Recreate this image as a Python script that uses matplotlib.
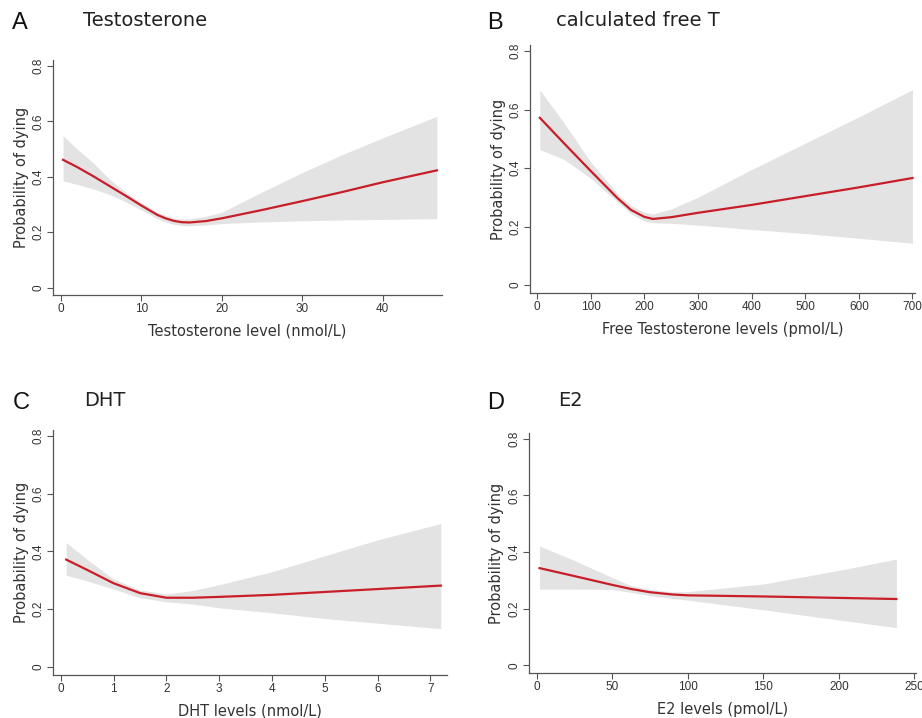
import matplotlib
matplotlib.use("Agg")
import matplotlib.pyplot as plt

plt.rcParams['font.family'] = ['Liberation Sans', 'DejaVu Sans']

# Panel A - total testosterone
t_x = [0.25, 2, 4, 6, 8, 10, 12, 13, 14, 15, 16, 18, 20, 25, 30, 35, 40, 46.75]
t_fit = [0.461, 0.435, 0.402, 0.367, 0.332, 0.296, 0.262, 0.25, 0.241, 0.236, 0.235, 0.24, 0.25, 0.28, 0.312, 0.345, 0.38, 0.423]
t_hi = [0.548, 0.50, 0.45, 0.392, 0.345, 0.306, 0.272, 0.26, 0.252, 0.248, 0.248, 0.257, 0.272, 0.345, 0.415, 0.48, 0.54, 0.618]
t_lo = [0.385, 0.372, 0.356, 0.336, 0.31, 0.28, 0.248, 0.237, 0.228, 0.224, 0.223, 0.226, 0.231, 0.237, 0.241, 0.244, 0.246, 0.249]

# Panel B - calculated free testosterone
ft_x = [5, 50, 100, 150, 175, 200, 216, 250, 300, 400, 500, 600, 700]
ft_fit = [0.572, 0.485, 0.39, 0.297, 0.257, 0.233, 0.226, 0.232, 0.247, 0.274, 0.304, 0.334, 0.366]
ft_hi = [0.667, 0.555, 0.42, 0.312, 0.272, 0.249, 0.243, 0.26, 0.30, 0.395, 0.485, 0.575, 0.668]
ft_lo = [0.463, 0.43, 0.365, 0.284, 0.244, 0.219, 0.213, 0.211, 0.205, 0.19, 0.176, 0.16, 0.143]

# Panel C - DHT
dht_x = [0.1, 0.5, 1, 1.5, 2, 2.5, 3, 4, 5, 6, 7.2]
dht_fit = [0.372, 0.336, 0.29, 0.256, 0.24, 0.24, 0.243, 0.25, 0.26, 0.27, 0.282]
dht_hi = [0.431, 0.372, 0.305, 0.267, 0.253, 0.265, 0.285, 0.33, 0.385, 0.44, 0.497]
dht_lo = [0.318, 0.298, 0.27, 0.24, 0.226, 0.218, 0.205, 0.188, 0.168, 0.152, 0.133]

# Panel D - E2
e2_x = [2, 25, 50, 62, 75, 90, 100, 150, 200, 238]
e2_fit = [0.343, 0.315, 0.284, 0.27, 0.258, 0.25, 0.247, 0.243, 0.238, 0.234]
e2_hi = [0.421, 0.37, 0.31, 0.282, 0.268, 0.259, 0.26, 0.287, 0.335, 0.375]
e2_lo = [0.269, 0.269, 0.268, 0.258, 0.246, 0.236, 0.23, 0.196, 0.16, 0.133]

y_ticks = [0, 0.2, 0.4, 0.6, 0.8]
y_tick_labels = ['0', '0.2', '0.4', '0.6', '0.8']

AXIS_GREY = '#555555'
TEXT_GREY = '#333333'


def draw_panel(fig, rect, x, fit, hi, lo, xlim, xticks, xlabel, letter, title,
               letter_pos, title_pos):
    """Draw one spline panel with its confidence band."""
    ax = fig.add_axes(rect)
    ax.fill_between(x, lo, hi, color='#e3e3e3', linewidth=0)
    ax.plot(x, fit, color='#c81e2a', linewidth=1.6)

    ax.set_xlim(*xlim)
    ax.set_ylim(-0.027, 0.82)
    ax.set_xticks(xticks)
    ax.set_xticklabels([str(t) for t in xticks])
    ax.set_yticks(y_ticks)
    ax.set_yticklabels(y_tick_labels, rotation=90, va='center')

    for side in ['top', 'right']:
        ax.spines[side].set_visible(False)
    for side in ['left', 'bottom']:
        ax.spines[side].set_color(AXIS_GREY)
        ax.spines[side].set_linewidth(0.9)
    ax.tick_params(axis='both', direction='out', length=4, width=0.8,
                   color=AXIS_GREY, labelcolor=TEXT_GREY, labelsize=8.5, pad=2)

    ax.set_ylabel('Probability of dying', fontsize=10.5, color=TEXT_GREY,
                  labelpad=3, family='DejaVu Sans')
    ax.set_xlabel(xlabel, fontsize=10.5, color=TEXT_GREY, labelpad=6,
                  family='DejaVu Sans')

    fig.text(letter_pos[0] / 922, 1 - letter_pos[1] / 718, letter,
             fontsize=17, color='#111111', va='baseline')
    fig.text(title_pos[0] / 922, 1 - title_pos[1] / 718, title,
             fontsize=14, color='#222222', va='baseline', family='DejaVu Sans')
    return ax


fig = plt.figure(figsize=(9.22, 7.18), dpi=100)

draw_panel(fig, [0.0575, 0.589, 0.422, 0.327], t_x, t_fit, t_hi, t_lo,
           (-1.0, 47.4), [0, 10, 20, 30, 40], 'Testosterone level (nmol/L)',
           'A', 'Testosterone', (12, 29), (83, 26))
draw_panel(fig, [0.575, 0.592, 0.4176, 0.345], ft_x, ft_fit, ft_hi, ft_lo,
           (-13, 705), [0, 100, 200, 300, 400, 500, 600, 700],
           'Free Testosterone levels (pmol/L)',
           'B', 'calculated free T', (487, 29), (556, 26))
draw_panel(fig, [0.0575, 0.06, 0.4275, 0.341], dht_x, dht_fit, dht_hi, dht_lo,
           (-0.15, 7.32), [0, 1, 2, 3, 4, 5, 6, 7], 'DHT levels (nmol/L)',
           'C', 'DHT', (13, 409), (84, 406))
draw_panel(fig, [0.5737, 0.0627, 0.4198, 0.3343], e2_x, e2_fit, e2_hi, e2_lo,
           (-5, 251), [0, 50, 100, 150, 200, 250], 'E2 levels (pmol/L)',
           'D', 'E2', (487, 409), (558, 406))

fig.savefig('out.png', dpi=100)
